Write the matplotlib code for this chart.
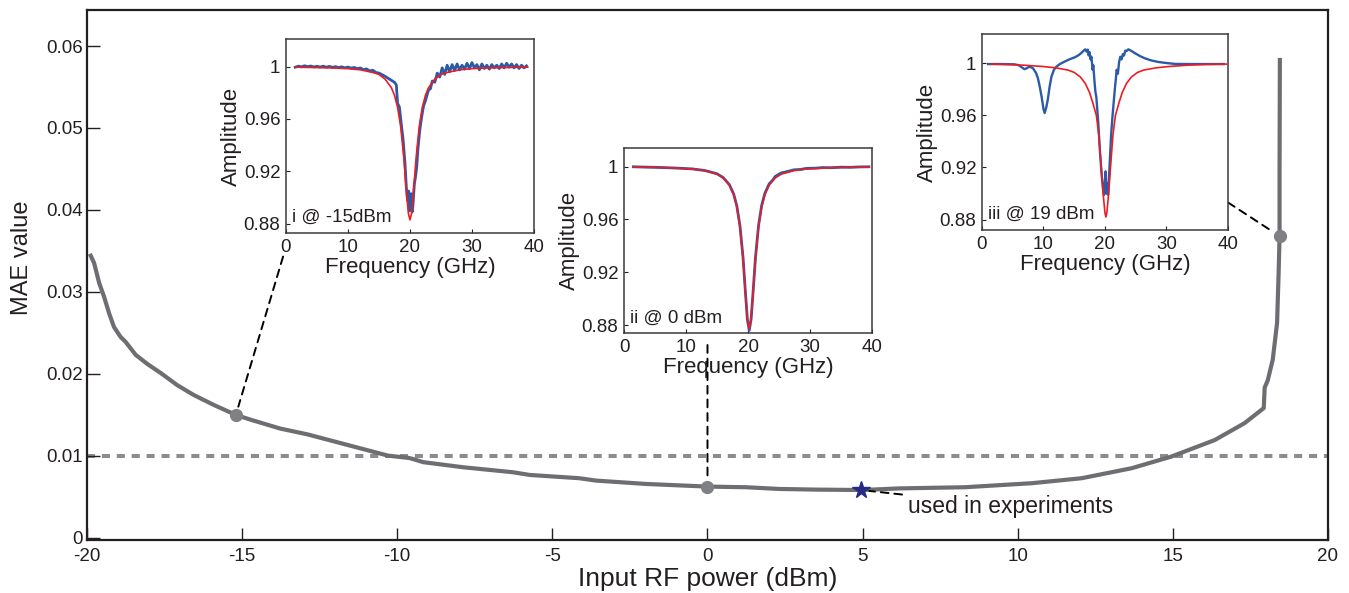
import matplotlib
matplotlib.use("Agg")
import matplotlib.pyplot as plt

plt.rcParams['font.family'] = ['Liberation Sans', 'DejaVu Sans']

# ---------------- main curve data ----------------
power_dbm = [-19.88, -19.77, -19.61, -19.45, -19.29, -19.13, -18.92, -18.76, -18.43, -18.06,
             -17.63, -17.09, -16.56, -15.92, -15.22, -14.74, -13.77, -12.9, -12.2, -11.5,
             -10.9, -10.3, -9.6, -9.16, -7.88, -6.27, -5.73, -4.13, -3.59, -1.98,
             0.0, 1.24, 2.31, 3.5, 5.0, 6.2, 8.3, 10.45, 12.06, 13.67,
             14.95, 16.35, 17.31, 17.93, 17.96, 18.06, 18.22, 18.36, 18.41, 18.44,
             18.44, 18.45]
mae_value = [0.0344, 0.0335, 0.0311, 0.0294, 0.0274, 0.0257, 0.0245, 0.0239, 0.0223, 0.0212,
             0.0201, 0.0186, 0.0174, 0.0162, 0.0150, 0.0144, 0.0133, 0.0126, 0.0119, 0.0112,
             0.0106, 0.0100, 0.0097, 0.0092, 0.00858, 0.00797, 0.00764, 0.00724, 0.00695, 0.00654,
             0.00622, 0.00614, 0.00593, 0.00585, 0.0058, 0.0060, 0.00614, 0.00663, 0.00724, 0.00846,
             0.00988, 0.0119, 0.01396, 0.0158, 0.0183, 0.0192, 0.0217, 0.0262, 0.0323, 0.0368,
             0.045, 0.0583]
threshold = 0.01
sel_power = [-15.2, 0.0, 18.44]
sel_mae = [0.0150, 0.0062, 0.0368]
star_power = [4.95]
star_mae = [0.0058]

x_ticks = [-20, -15, -10, -5, 0, 5, 10, 15, 20]
x_ticklabels = ['-20', '-15', '-10', '-5', '0', '5', '10', '15', '20']
y_ticks = [0, 0.01, 0.02, 0.03, 0.04, 0.05, 0.06]
y_ticklabels = ['0', '0.01', '0.02', '0.03', '0.04', '0.05', '0.06']

# ---------------- inset data ----------------
in_xticks = [0, 10, 20, 30, 40]
in_yticks = [0.88, 0.92, 0.96, 1.0]
in_yticklabels = ['0.88', '0.92', '0.96', '1']

# inset i (-15 dBm)
i_red_f = [1.5, 4, 7, 10, 12, 14, 15, 16, 17, 17.5, 18, 18.5, 19, 19.5, 19.75, 20, 20.25, 20.5,
           21, 21.5, 22, 22.5, 23, 24, 25, 26, 28, 30, 33, 36, 39]
i_red_a = [0.9995, 0.9993, 0.9990, 0.9984, 0.9975, 0.9955, 0.9940, 0.9903, 0.9839, 0.9781, 0.969,
           0.9543, 0.9309, 0.9003, 0.8878, 0.883, 0.8878, 0.9003, 0.9309, 0.9543, 0.969, 0.9781,
           0.9839, 0.9903, 0.9940, 0.9955, 0.9975, 0.9984, 0.9990, 0.9993, 0.9995]
i_blue_f = [1.5, 2.0, 2.5, 3.0, 3.5, 4.0, 4.5, 5.0, 5.5, 6.0, 6.5, 7.0, 7.5, 8.0, 8.5, 9.0, 9.5,
            10.0, 10.5, 11.0, 11.5, 12.0, 12.5, 13.0, 13.5, 14.0, 14.5, 15.0, 15.5, 16.0, 16.5,
            17.0, 17.5, 17.8, 18.0, 18.3, 18.6, 18.9, 19.2, 19.4, 19.6, 19.8, 19.9, 20.0, 20.1,
            20.2, 20.35, 20.5, 20.7, 20.9, 21.1, 21.3, 21.6, 21.9, 22.2, 22.5, 22.8, 23.0, 23.3,
            23.6, 24.0, 24.4, 24.8, 25.2, 25.6, 26.0, 26.4, 26.8, 27.2, 27.6, 28.0, 28.4, 28.8,
            29.2, 29.6, 30.0, 30.4, 30.8, 31.2, 31.6, 32.0, 32.4, 32.8, 33.2, 33.6, 34.0, 34.4,
            34.8, 35.2, 35.6, 36.0, 36.4, 36.8, 37.2, 37.6, 38.0, 38.4, 38.8]
i_blue_a = [0.9995, 1.0003, 0.9998, 1.0006, 0.9999, 1.0004, 0.9997, 1.0002, 0.9996, 1.0003,
            0.9995, 1.0001, 0.9994, 0.9999, 0.9992, 0.9998, 0.9990, 0.9996, 0.9988, 0.9993,
            0.9984, 0.9989, 0.9976, 0.9982, 0.9966, 0.9972, 0.9955, 0.9950, 0.9938, 0.9925,
            0.9910, 0.9895, 0.9880, 0.9860, 0.9720, 0.9690, 0.9560, 0.9440, 0.9260, 0.9090,
            0.8980, 0.9050, 0.8900, 0.8990, 0.8920, 0.9030, 0.8890, 0.8950, 0.9100, 0.9160,
            0.9240, 0.9380, 0.9520, 0.9620, 0.9700, 0.9740, 0.9790, 0.9822, 0.9830, 0.9890,
            0.9880, 0.9950, 0.9920, 0.9990, 0.9940, 1.0010, 0.9960, 1.0015, 0.9970, 1.0020,
            0.9975, 1.0010, 0.9980, 1.0025, 0.9985, 1.0030, 0.9990, 1.0015, 0.9975, 1.0020,
            0.9985, 1.0010, 0.9980, 1.0015, 0.9990, 1.0010, 0.9985, 1.0020, 0.9990, 1.0025,
            0.9995, 1.0020, 0.9990, 1.0015, 0.9985, 1.0010, 0.9990, 1.0005]

# inset ii (0 dBm)
ii_red_f = [1.5, 5, 8, 11, 13, 15, 16, 17, 17.7, 18.2, 18.7, 19.2, 19.6, 19.9, 20.2, 20.5, 20.8,
            21.2, 21.7, 22.2, 22.7, 23.4, 24.4, 25.4, 27.4, 29.4, 32, 35, 38, 39.5]
ii_red_a = [0.9996, 0.9993, 0.9989, 0.9981, 0.9969, 0.9943, 0.9914, 0.9859, 0.9785, 0.9695,
            0.9544, 0.930, 0.9033, 0.8848, 0.877, 0.8848, 0.9033, 0.930, 0.9544, 0.9695,
            0.9785, 0.9859, 0.9914, 0.9943, 0.9969, 0.9981, 0.9988, 0.9993, 0.9995, 0.9996]
ii_blue_f = [1.5, 3, 5, 7, 9, 11, 13, 14, 15, 16, 17, 17.7, 18.2, 18.7, 19.2, 19.6, 19.9, 20.2,
             20.5, 20.8, 21.2, 21.7, 22.2, 22.7, 23.4, 24, 24.4, 25, 25.4, 26, 27.4, 28.5, 29.4,
             31, 32, 33.5, 35, 36.5, 38, 39.5]
ii_blue_a = [0.9998, 0.9996, 0.9994, 0.9991, 0.9987, 0.9982, 0.9970, 0.9958, 0.9945, 0.9916,
             0.9862, 0.9790, 0.9700, 0.9552, 0.9310, 0.9035, 0.8840, 0.8760, 0.8845, 0.9040,
             0.9310, 0.9555, 0.9705, 0.9795, 0.9868, 0.9898, 0.9925, 0.9942, 0.9952, 0.9958,
             0.9975, 0.9978, 0.9986, 0.9988, 0.9992, 0.9991, 0.9995, 0.9994, 0.9997, 0.9998]

# inset iii (19 dBm)
iii_red_f = [1.5, 4, 7, 10, 12, 14, 15, 16, 16.8, 17.5, 18, 18.6, 19.0, 19.4, 19.7, 20.0, 20.15,
             20.3, 20.6, 20.9, 21.3, 21.7, 22.3, 22.8, 23.5, 24.3, 25.3, 26.3, 28.3, 30.3, 33.3,
             36.3, 39.8]
iii_red_a = [0.9994, 0.9991, 0.9985, 0.9975, 0.9965, 0.9948, 0.9930, 0.9895, 0.9845, 0.9775,
             0.970, 0.960, 0.945, 0.920, 0.900, 0.885, 0.882, 0.885, 0.900, 0.920, 0.945, 0.960,
             0.970, 0.9775, 0.9845, 0.9895, 0.9930, 0.9948, 0.9965, 0.9975, 0.9985, 0.9991, 0.9994]
iii_blue_f = [1.0, 3, 5.3, 6.0, 6.5, 6.9, 7.3, 7.7, 8.3, 8.8, 9.1, 9.4, 9.7, 10.0, 10.2, 10.45,
              10.7, 11.0, 11.3, 11.7, 12.1, 12.7, 13.4, 14.2, 15.1, 15.7, 16.1, 16.5, 16.8, 17.0,
              17.2, 17.35, 17.5, 17.65, 17.8, 18.0, 18.1, 18.3, 18.45, 18.6, 18.9, 19.2, 19.45,
              19.7, 19.85, 20.0, 20.1, 20.25, 20.4, 20.5, 20.65, 20.8, 21.0, 21.2, 21.4, 21.6,
              21.75, 21.9, 22.1, 22.3, 22.5, 22.7, 22.9, 23.1, 23.3, 23.55, 23.8, 24.3, 24.9,
              25.7, 26.5, 27.5, 28.7, 30, 31.4, 34, 37, 39.3]
iii_blue_a = [0.9994, 0.9994, 0.9992, 0.9985, 0.9968, 0.9955, 0.9962, 0.9975, 0.9962, 0.9925,
              0.9885, 0.9820, 0.9744, 0.9650, 0.9618, 0.9660, 0.9719, 0.9820, 0.9897, 0.9950,
              0.9974, 0.9995, 1.0012, 1.0030, 1.0046, 1.0062, 1.0077, 1.0095, 1.0107, 1.0090,
              1.0105, 1.0060, 1.0085, 1.0030, 1.0050, 0.9950, 0.9985, 0.9860, 0.9780, 0.9740,
              0.9550, 0.9310, 0.9150, 0.9030, 0.8990, 0.9100, 0.9170, 0.9000, 0.9080, 0.8990,
              0.9120, 0.9260, 0.9450, 0.9580, 0.9690, 0.9800, 0.9870, 0.9950, 0.9920, 1.0010,
              1.0050, 1.0030, 1.0070, 1.0060, 1.0097, 1.0095, 1.0107, 1.0095, 1.0077, 1.0055,
              1.0038, 1.0022, 1.0010, 1.0002, 0.9995, 0.9994, 0.9994, 0.9994]

inset_labels = ['i @ -15dBm', 'ii @ 0 dBm', 'iii @ 19 dBm']

# ---------------- styling ----------------
TXT = '#231f20'
GRAY = '#6d6e71'
DASHGRAY = '#8c8c8e'
BLUE = '#2b5aa8'
RED = '#ec1c24'
STAR = '#262a86'

fig = plt.figure(figsize=(13.49, 5.93), dpi=100)
ax = fig.add_axes([0.0645, 0.0894, 0.9199, 0.8937])

ax.axhline(threshold, color=DASHGRAY, lw=2.9, linestyle=(0, (2.0, 1.7)), zorder=1)
ax.plot(power_dbm, mae_value, color=GRAY, lw=3.0, solid_joinstyle='round', zorder=2)
ax.plot(sel_power, sel_mae, 'o', color='#7f8083', ms=8.5, zorder=3)
ax.plot(star_power, star_mae, marker='*', color=STAR, ms=13, linestyle='none', zorder=4)

ax.set_xlim(-20, 20)
ax.set_ylim(-0.0003, 0.0644)
ax.set_xticks(x_ticks)
ax.set_xticklabels(x_ticklabels)
ax.set_yticks(y_ticks)
ax.set_yticklabels(y_ticklabels)
ax.tick_params(direction='in', length=9, width=1.0, color=TXT, labelsize=13.5,
               labelcolor=TXT)
ax.tick_params(axis='y', pad=3)
ax.tick_params(axis='x', pad=6)
for s in ax.spines.values():
    s.set_linewidth(1.6)
    s.set_color(TXT)
ax.set_xlabel('Input RF power (dBm)', fontsize=19, color=TXT, labelpad=1)
ax.set_ylabel('MAE value', fontsize=17, color=TXT)
ax.yaxis.set_label_coords(-0.0435, 0.533)

# leader lines
lead = dict(arrowstyle='-', color='black', lw=1.4, linestyle=(0, (4, 3)),
            shrinkA=0, shrinkB=6)
ax.annotate('', xy=(sel_power[0], sel_mae[0]), xytext=(-13.68, 0.0343), arrowprops=lead)
ax.annotate('', xy=(sel_power[1], sel_mae[1]), xytext=(0.0, 0.0235), arrowprops=lead)
ax.annotate('', xy=(sel_power[2], sel_mae[2]), xytext=(16.78, 0.0409), arrowprops=lead)
ax.annotate('used in experiments', xy=(star_power[0], star_mae[0]), xytext=(6.45, 0.0038),
            fontsize=16.5, color=TXT, va='center', ha='left',
            arrowprops=dict(arrowstyle='-', color='black', lw=1.4, linestyle=(0, (4, 3)),
                            shrinkA=2, shrinkB=6))

# ---------------- insets ----------------
inset_rects = [[0.2120, 0.6071, 0.1838, 0.3271],
               [0.4626, 0.4384, 0.1838, 0.3120],
               [0.7279, 0.6121, 0.1824, 0.3306]]
inset_ylims = [(0.873, 1.021), (0.874, 1.014), (0.872, 1.0225)]
inset_data = [(i_blue_f, i_blue_a, i_red_f, i_red_a),
              (ii_blue_f, ii_blue_a, ii_red_f, ii_red_a),
              (iii_blue_f, iii_blue_a, iii_red_f, iii_red_a)]
blue_lw = [2.0, 2.0, 1.7]

for k in range(3):
    ia = fig.add_axes(inset_rects[k])
    bf, ba, rf, ra = inset_data[k]
    ia.plot(bf, ba, color=BLUE, lw=blue_lw[k], zorder=2)
    ia.plot(rf, ra, color=RED, lw=1.2, zorder=3)
    ia.set_xlim(0, 40)
    ia.set_ylim(*inset_ylims[k])
    ia.set_xticks(in_xticks)
    ia.set_yticks(in_yticks)
    ia.set_yticklabels(in_yticklabels)
    ia.tick_params(direction='in', length=3, width=0.8, color=TXT, labelsize=13.5,
                   labelcolor=TXT, pad=4)
    for s in ia.spines.values():
        s.set_linewidth(1.1)
        s.set_color('#3a3a3a')
    ia.set_xlabel('Frequency (GHz)', fontsize=16, color=TXT, labelpad=1)
    ia.set_ylabel('Amplitude', fontsize=16, color=TXT, labelpad=1)
    ia.text(0.025, 0.035, inset_labels[k], transform=ia.transAxes, fontsize=13.5,
            color=TXT, ha='left', va='bottom')

fig.savefig('out.png', dpi=100)
